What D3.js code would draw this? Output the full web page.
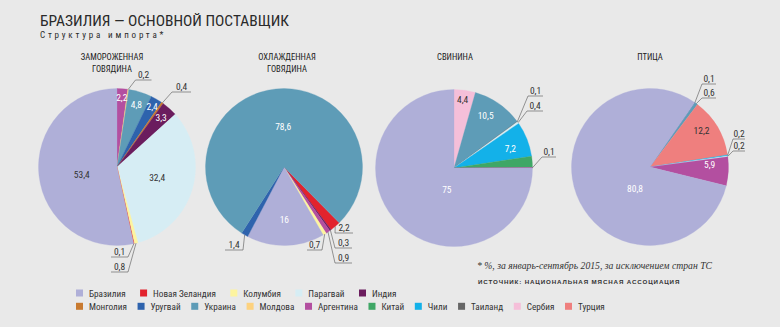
<!DOCTYPE html>
<html>
<head>
<meta charset="utf-8">
<script src="https://cdn.jsdelivr.net/npm/d3@7"></script>
<style>
  html, body { margin: 0; padding: 0; background: #e9e9e9; }
  svg { display: block; }
  .narrow { font-family: "Liberation Sans Narrow", "Roboto Condensed", "DejaVu Sans Condensed", sans-serif; font-stretch: condensed; }
</style>
</head>
<body>
<svg id="chart" width="780" height="327"></svg>
<script>
// Countries in legend order and their colours
const countries = ["Бразилия", "Новая Зеландия", "Колумбия", "Парагвай", "Индия",
                   "Монголия", "Уругвай", "Украина", "Молдова", "Аргентина",
                   "Китай", "Чили", "Таиланд", "Сербия", "Турция"];
const countryColors = ["#afafd8", "#e2232d", "#fdf4a0", "#d6edf4", "#6b1d5e",
                       "#c87a30", "#2e63ad", "#5e9cb7", "#fdd27f", "#b34fa0",
                       "#3fa766", "#13b1e9", "#666666", "#f5bfd9", "#ef7f7e"];

// Import shares, %, clockwise order of slices
const frozenBeefCountries = ["Аргентина", "Молдова", "Украина", "Уругвай", "Монголия", "Индия", "Парагвай", "Колумбия", "Новая Зеландия", "Бразилия"];
const frozenBeefShares    = [2.2, 0.2, 4.8, 2.4, 0.4, 3.3, 32.4, 0.8, 0.1, 53.4];

const chilledBeefCountries = ["Новая Зеландия", "Индия", "Аргентина", "Колумбия", "Бразилия", "Уругвай", "Украина"];
const chilledBeefShares    = [2.2, 0.3, 0.9, 0.7, 16, 1.4, 78.6];

const porkCountries = ["Сербия", "Украина", "Таиланд", "Парагвай", "Чили", "Китай", "Аргентина", "Бразилия"];
const porkShares    = [4.4, 10.5, 0.1, 0.4, 7.2, 2.3, 0.1, 75];

const poultryCountries = ["Уругвай", "Украина", "Турция", "Чили", "Парагвай", "Аргентина", "Бразилия"];
const poultryShares    = [0.1, 0.6, 12.2, 0.2, 0.2, 5.9, 80.8];

const legendRows = [countries.slice(0, 5), countries.slice(5)];

const fmt = v => String(v).replace(".", ",");
const color = d3.scaleOrdinal().domain(countries).range(countryColors);

// Legend rows start at the same left edge; the last swatch of each row sits at the given x
const legendLeft = 76;
const legendLastSwatch = [359, 565];

// Layout of the four pies.
// inside: country -> [radius fraction, angle shift (deg), text colour]
// callouts: country -> [elbow dx, elbow dy, side, underline length]
const R = 78.5;
const pies = [
  {
    title: ["ЗАМОРОЖЕННАЯ", "ГОВЯДИНА"], names: frozenBeefCountries, values: frozenBeefShares,
    cx: 117, cy: 167, start: 0, titleX: 112,
    inside: {
      "Аргентина": [0.88, 0, "#fff"], "Украина": [0.83, 0, "#fff"], "Уругвай": [0.89, 0, "#fff"],
      "Индия": [0.84, 0, "#fff"], "Парагвай": [0.53, -1, "#333"], "Бразилия": [0.46, -6.7, "#333"]
    },
    callouts: {
      "Молдова": [18.5, -87, 1, 16], "Монголия": [55, -75, 1, 19],
      "Новая Зеландия": [11, 90, -1, 17], "Колумбия": [11, 105, -1, 17]
    }
  },
  {
    title: ["ОХЛАЖДЕННАЯ", "ГОВЯДИНА"], names: chilledBeefCountries, values: chilledBeefShares,
    cx: 284, cy: 167, start: 135.3, titleX: 287,
    inside: { "Украина": [0.52, 4.8, "#fff"], "Бразилия": [0.67, 0.8, "#fff"] },
    callouts: {
      "Новая Зеландия": [51, 66, 1, 18], "Индия": [51, 81, 1, 17], "Аргентина": [51, 96, 1, 17],
      "Колумбия": [38, 83, -1, 15], "Уругвай": [-41, 83, -1, 18]
    }
  },
  {
    title: ["СВИНИНА"], names: porkCountries, values: porkShares,
    cx: 454, cy: 168, start: 0, titleX: 455,
    inside: {
      "Сербия": [0.88, -0.7, "#333"], "Украина": [0.78, -3.6, "#fff"],
      "Чили": [0.76, 2.4, "#fff"], "Бразилия": [0.29, -26.6, "#fff"]
    },
    callouts: {
      "Таиланд": [74, -72, 1, 15], "Парагвай": [73, -57, 1, 16], "Аргентина": [88, -11, 1, 14]
    }
  },
  {
    title: ["ПТИЦА"], names: poultryCountries, values: poultryShares,
    cx: 650, cy: 167, start: 34.7, titleX: 650,
    inside: {
      "Турция": [0.80, -4.1, "#333"], "Аргентина": [0.76, -5.1, "#fff"], "Бразилия": [0.34, -35, "#fff"]
    },
    callouts: {
      "Уругвай": [52, -83, 1, 14], "Украина": [52, -69, 1, 14],
      "Чили": [83, -28, 1, 12], "Парагвай": [83, -16, 1, 12]
    }
  }
];

const svg = d3.select("#chart");
svg.append("rect").attr("width", 780).attr("height", 327).attr("fill", "#e9e9e9");

// Heading
svg.append("text").attr("class", "narrow")
  .attr("x", 40).attr("y", 26)
  .attr("font-size", 15.5).attr("fill", "#2a2a2a")
  .attr("textLength", 249).attr("lengthAdjust", "spacingAndGlyphs")
  .text("БРАЗИЛИЯ — ОСНОВНОЙ ПОСТАВЩИК");
svg.append("text").attr("class", "narrow")
  .attr("x", 40).attr("y", 37.5)
  .attr("font-size", 9).attr("fill", "#2a2a2a")
  .attr("letter-spacing", 2.6)
  .attr("textLength", 126).attr("lengthAdjust", "spacing")
  .text("Структура импорта*");

const rad = deg => deg * Math.PI / 180;
const arc = d3.arc().innerRadius(0).outerRadius(R);

pies.forEach(p => {
  const rows = p.names.map((n, i) => ({ name: n, value: p.values[i] }));
  const pie = d3.pie().sort(null).value(d => d.value)
    .startAngle(rad(p.start)).endAngle(rad(p.start) + 2 * Math.PI);
  const arcs = pie(rows);

  const g = svg.append("g").attr("transform", `translate(${p.cx},${p.cy})`);

  // Chart title
  p.title.forEach((t, i) => {
    svg.append("text").attr("class", "narrow")
      .attr("x", p.titleX).attr("y", 60 + i * 11.7)
      .attr("text-anchor", "middle").attr("font-size", 8.6).attr("fill", "#222")
      .text(t);
  });

  g.selectAll("path.slice").data(arcs).join("path")
    .attr("class", "slice")
    .attr("d", arc)
    .attr("fill", d => color(d.data.name))
    .attr("stroke", d => color(d.data.name))
    .attr("stroke-width", 0.3);

  // Values inside slices
  arcs.filter(d => p.inside[d.data.name]).forEach(d => {
    const [k, shift, fill] = p.inside[d.data.name];
    const a = (d.startAngle + d.endAngle) / 2 + rad(shift);
    const rr = R * k;
    g.append("text").attr("class", "narrow")
      .attr("x", Math.sin(a) * rr).attr("y", -Math.cos(a) * rr)
      .attr("dy", "0.35em").attr("text-anchor", "middle")
      .attr("font-size", 9.5).attr("fill", fill)
      .text(fmt(d.data.value));
  });

  // Callouts for thin slices
  arcs.filter(d => p.callouts[d.data.name]).forEach(d => {
    const [ex, ey, side, len] = p.callouts[d.data.name];
    const a = (d.startAngle + d.endAngle) / 2;
    const sx = Math.sin(a) * R, sy = -Math.cos(a) * R;
    const endX = ex + side * len;
    g.append("path")
      .attr("d", `M${sx},${sy}L${ex},${ey}L${endX},${ey}`)
      .attr("fill", "none").attr("stroke", "#555").attr("stroke-width", 0.6);
    g.append("text").attr("class", "narrow")
      .attr("x", (ex + endX) / 2).attr("y", ey - 1.6)
      .attr("text-anchor", "middle").attr("font-size", 9.5).attr("fill", "#333")
      .text(fmt(d.data.value));
  });
});

// Notes
svg.append("text")
  .attr("x", 477).attr("y", 268.5)
  .attr("font-family", "'Liberation Serif', 'DejaVu Serif', serif")
  .attr("font-style", "italic").attr("font-size", 10.5).attr("fill", "#333")
  .attr("textLength", 235).attr("lengthAdjust", "spacingAndGlyphs")
  .text("* %, за январь-сентябрь 2015, за исключением стран ТС");
svg.append("text")
  .attr("x", 478).attr("y", 284)
  .attr("font-family", "'Liberation Sans', 'DejaVu Sans', sans-serif")
  .attr("font-weight", "bold").attr("font-size", 6.2).attr("fill", "#333")
  .attr("letter-spacing", 1.6)
  .attr("textLength", 203).attr("lengthAdjust", "spacing")
  .text("ИСТОЧНИК: НАЦИОНАЛЬНАЯ МЯСНАЯ АССОЦИАЦИЯ");

// Legend: swatch + label, items spread evenly so each row ends at its last swatch position
const legend = svg.append("g");
const swatch = 7, labelOffset = 13;
legendRows.forEach((row, ri) => {
  const y = 289.5 + ri * 13.3;
  const items = row.map(name => {
    const t = legend.append("text").attr("class", "narrow")
      .attr("y", y + 7).attr("font-size", 9.2).attr("fill", "#333").text(name);
    return { name, t, w: t.node().getComputedTextLength() };
  });
  const used = d3.sum(items.slice(0, -1), d => labelOffset + d.w);
  const gap = (legendLastSwatch[ri] - legendLeft - used) / (items.length - 1);
  let x = legendLeft;
  items.forEach(d => {
    legend.append("rect").attr("x", x).attr("y", y).attr("width", swatch).attr("height", swatch)
      .attr("fill", color(d.name));
    d.t.attr("x", x + labelOffset);
    x += labelOffset + d.w + gap;
  });
});
</script>
</body>
</html>
